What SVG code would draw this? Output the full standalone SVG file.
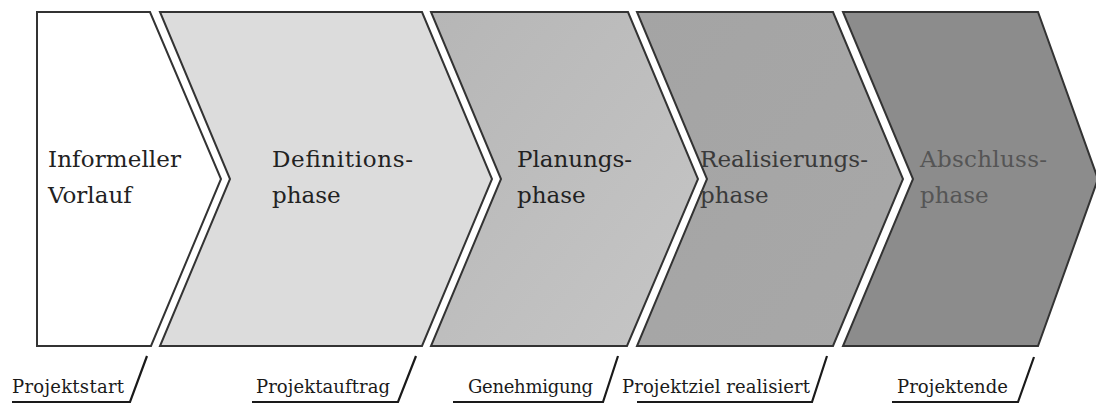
<svg xmlns="http://www.w3.org/2000/svg" width="1096" height="405" viewBox="0 0 1096 405">
<style>
.ph{stroke:#333;stroke-width:2;stroke-linejoin:miter}
.t{font-family:"DejaVu Serif","Liberation Serif",serif;font-size:23px;fill:#222}
.l{font-family:"DejaVu Serif","Liberation Serif",serif;font-size:18px;fill:#1a1a1a}
.ln{fill:none;stroke:#1a1a1a;stroke-width:2.2}
</style>
<defs>
<linearGradient id="g3" x1="0" y1="0" x2="1" y2="1"><stop offset="0" stop-color="#b6b6b6"/><stop offset="1" stop-color="#c6c6c6"/></linearGradient>
<linearGradient id="g4" x1="0" y1="0" x2="1" y2="1"><stop offset="0" stop-color="#a4a4a4"/><stop offset="1" stop-color="#a8a8a8"/></linearGradient>
</defs>
<rect width="1096" height="405" fill="#fff"/>
<g id="phase1">
<polygon class="ph" fill="#ffffff" points="37,12 150,12 221,179 151,346 37,346"/>
<text class="t" x="48" y="167" textLength="133">Informeller</text>
<text class="t" x="48" y="203">Vorlauf</text>
</g>
<g id="phase2">
<polygon class="ph" fill="#dcdcdc" points="160,12 422,12 492,179 422,346 160,346 230,179"/>
<text class="t" x="272" y="167" textLength="141">Definitions-</text>
<text class="t" x="272" y="203">phase</text>
</g>
<g id="phase3">
<polygon class="ph" fill="url(#g3)" points="431,12 628,12 698,179 627,346 431,346 501,179"/>
<text class="t" x="517" y="167" textLength="115">Planungs-</text>
<text class="t" x="517" y="203">phase</text>
</g>
<g id="phase4">
<polygon class="ph" fill="url(#g4)" points="637,12 833,12 903,179 833,346 637,346 707,179"/>
<text class="t" x="700" y="167" textLength="168" style="fill:#3a3a3a">Realisierungs-</text>
<text class="t" x="700" y="203" style="fill:#3a3a3a">phase</text>
</g>
<g id="phase5">
<polygon class="ph" fill="#8c8c8c" points="843,12 1038,12 1098,179 1038,346 843,346 913,179"/>
<text class="t" x="920" y="167" textLength="127" style="fill:#555">Abschluss-</text>
<text class="t" x="920" y="203" style="fill:#555">phase</text>
</g>
<g id="milestones">
<g id="m1"><text class="l" x="12" y="393" textLength="112">Projektstart</text><polyline class="ln" points="12,402 130,402 147,356"/></g>
<g id="m2"><text class="l" x="256" y="393" textLength="134">Projektauftrag</text><polyline class="ln" points="252,402 398,402 416,356"/></g>
<g id="m3"><text class="l" x="468" y="393" textLength="125">Genehmigung</text><polyline class="ln" points="453,402 603,402 618,356"/></g>
<g id="m4"><text class="l" x="622" y="393" textLength="188">Projektziel realisiert</text><polyline class="ln" points="637,402 812,402 827,356"/></g>
<g id="m5"><text class="l" x="897" y="393" textLength="111">Projektende</text><polyline class="ln" points="892,402 1018,402 1034,357"/></g>
</g>
</svg>
